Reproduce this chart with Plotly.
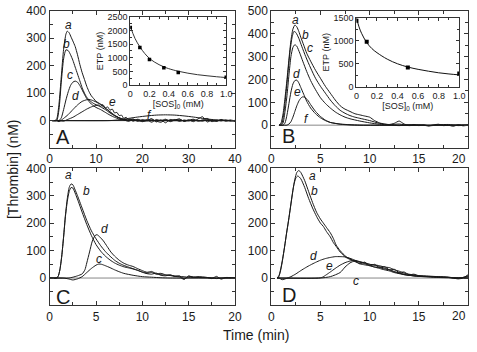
import plotly.graph_objects as go

# ---------------- data ----------------
# Panel A  (time min, thrombin nM)
A_a = [(0.5,0),(1,0),(1.5,5),(2,60),(2.5,160),(3,260),(3.5,315),(3.8,326),(4.2,320),(4.6,305),(5,290),(5.5,270),(6,240),(6.5,205),(7,175),(7.5,150),(8,125),(8.5,105),(9,90),(9.5,80),(10,70),(10.5,65),(11,60),(11.5,55),(12,45),(12.5,40),(13,32),(13.5,25),(14,18),(15,10),(16,5),(17,2),(18,6),(19,-3),(20,4),(21,0),(22,7),(23,-5),(24,3),(25,-8),(26,4),(27,1),(28,5),(29,-2),(30,3),(31,-4),(32,6),(33,14),(34,-5),(35,2),(36,-3),(37,4),(38,-2),(39,1),(40,-3)]
A_b = [(0.5,0),(1.5,0),(2,40),(2.5,140),(3,225),(3.5,258),(4,255),(4.5,240),(5,220),(5.5,195),(6,170),(6.5,145),(7,120),(7.5,100),(8,85),(8.5,75),(9,68),(9.5,62),(10,58),(11,50),(12,40),(13,28),(14,18),(15,10),(16,3),(17,6),(18,-2),(19,5),(20,-1),(21,3),(22,-6),(23,4),(24,0),(25,5),(26,-4),(27,2),(28,6),(29,-3),(30,1),(31,5),(32,-2),(33,3),(34,8),(35,-4),(36,2),(37,-1),(38,3),(39,-2),(40,1)]
A_c = [(0.5,0),(2,0),(2.5,10),(3,40),(3.5,75),(4,105),(4.5,128),(5,140),(5.5,144),(6,140),(6.5,128),(7,112),(7.5,95),(8,80),(9,60),(10,48),(11,40),(12,30),(13,20),(14,12),(15,6),(16,3),(17,-3),(18,4),(19,1),(20,-4),(21,2),(22,5),(23,-2),(24,-6),(25,3),(26,0),(27,4),(28,-3),(29,2),(30,-1),(31,3),(32,0),(33,-2),(34,4),(35,1),(36,-2),(37,3),(38,0),(39,2),(40,-1)]
A_d = [(0.5,0),(1.5,0),(2,-4),(3,8),(4,22),(5,40),(6,57),(7,70),(8,76),(8.5,77),(9,75),(10,68),(11,58),(12,45),(13,32),(14,20),(15,10),(16,4),(17,1),(18,0),(40,0)]
A_e = [(0.5,0),(2,0),(3,-2),(4,5),(5,12),(6,22),(7,32),(8,42),(9,50),(10,55),(10.5,57),(11,52),(11.5,58),(12,46),(12.5,50),(13,38),(13.5,42),(14,28),(14.5,30),(15,18),(15.5,20),(16,8),(16.5,12),(17,4),(17.5,6),(18,0),(19,3),(20,-2),(22,0),(40,0)]
A_f = [(0.5,0),(13,0),(15,3),(17,8),(19,13),(21,17),(23,20),(25,21),(27,20),(29,17),(31,13),(33,8),(35,4),(37,1),(38,0),(40,0)]
A_base = [(0.5,0),(40,0)]

# Panel B
B_a = [(0.8,0),(1.0,10),(1.2,50),(1.4,120),(1.6,200),(1.8,290),(2.0,370),(2.2,420),(2.4,438),(2.6,430),(2.8,410),(3.0,385),(3.3,350),(3.6,315),(4,280),(4.5,240),(5,205),(5.5,170),(6,140),(6.5,110),(7,85),(7.3,75),(7.5,70),(8,60),(8.5,50),(9,45),(9.5,40),(10,35),(10.5,20),(11,10),(11.5,5),(12,3),(12.5,8),(13,18),(13.5,5),(14,0),(14.5,3),(15,-2),(15.5,2),(16,-3),(16.5,1),(17,4),(17.5,-2),(18,0),(18.5,-5),(19,2),(19.5,-3),(20,0)]
B_b = [(0.8,0),(0.9,0),(1.1,10),(1.3,60),(1.5,140),(1.7,230),(1.9,320),(2.1,380),(2.3,410),(2.5,405),(2.8,380),(3.1,345),(3.5,300),(4,250),(4.5,205),(5,170),(5.5,140),(6,110),(6.5,85),(7,65),(7.5,52),(8,42),(8.5,35),(9,30),(10,20),(11,8),(12,2),(13,5),(14,-2),(15,2),(16,-3),(17,1),(18,3),(19,-2),(20,1)]
B_c = [(0.8,0),(1.0,0),(1.2,10),(1.4,60),(1.6,130),(1.8,220),(2.0,300),(2.2,340),(2.4,352),(2.6,345),(2.9,315),(3.2,280),(3.6,235),(4,195),(4.5,155),(5,120),(5.5,95),(6,75),(6.5,58),(7,45),(7.5,35),(8,28),(9,18),(10,10),(11,4),(12,1),(13,-2),(14,2),(15,0),(16,-2),(17,2),(18,-1),(19,1),(20,0)]
B_d = [(0.8,0),(1.2,0),(1.4,10),(1.6,45),(1.8,95),(2.0,145),(2.2,180),(2.4,195),(2.6,197),(2.8,185),(3.0,165),(3.3,135),(3.6,105),(4,75),(4.5,50),(5,32),(5.5,20),(6,12),(7,5),(8,2),(9,0),(20,0)]
B_e = [(0.8,0),(1.6,0),(1.8,5),(2.0,15),(2.2,35),(2.4,60),(2.6,85),(2.8,105),(3.0,118),(3.2,124),(3.4,122),(3.7,110),(4,90),(4.5,60),(5,38),(5.5,22),(6,12),(7,4),(8,1),(9,0),(20,0)]
B_f = [(0.8,0),(20,0)]

# Panel C
C_a = [(0,0),(0.7,0),(0.9,5),(1.1,30),(1.3,80),(1.5,150),(1.7,230),(1.9,290),(2.1,330),(2.3,343),(2.5,340),(2.7,325),(3,300),(3.5,255),(4,210),(4.5,172),(5,143),(5.5,118),(6,97),(6.5,80),(7,65),(7.5,54),(8,46),(8.5,40),(9,34),(9.5,28),(10,21),(10.5,16),(11,14),(11.5,18),(12,10),(12.5,8),(13,12),(13.5,6),(14,4),(14.5,-5),(15,8),(15.5,2),(16,5),(17,2),(17.5,-2),(18,6),(18.5,-4),(19,2),(20,0)]
C_b = [(0,0),(0.7,0),(0.9,5),(1.1,30),(1.3,80),(1.5,150),(1.7,225),(1.9,280),(2.1,315),(2.3,330),(2.5,328),(2.8,305),(3.1,278),(3.5,240),(4,195),(4.5,155),(5,122),(5.5,98),(6,80),(6.5,66),(7,55),(7.5,47),(8,41),(8.5,37),(9,33),(9.5,28),(10,22),(10.5,18),(11,20),(11.5,14),(12,12),(13,9),(14,6),(15,3),(16,2),(17,1),(18,0),(20,0)]
C_c = [(0,0),(1.5,0),(2,-3),(2.5,-7),(3,-3),(3.5,5),(4,20),(4.5,35),(5,47),(5.3,51),(5.6,50),(6,45),(6.5,38),(7,30),(7.5,23),(8,17),(9,10),(10,5),(11,3),(12,1),(13,0),(20,0)]
C_d = [(0,0),(2,0),(2.5,3),(3,8),(3.5,15),(3.8,30),(4,55),(4.3,95),(4.6,135),(4.9,155),(5.1,158),(5.4,150),(5.8,135),(6.2,115),(6.6,95),(7,80),(7.5,65),(8,54),(8.5,47),(9,42),(9.5,34),(10,27),(10.5,21),(11,24),(11.5,16),(12,17),(12.5,12),(13,10),(13.5,6),(14,8),(14.5,-3),(15,5),(16,3),(17,2),(18,-2),(19,1),(20,0)]
C_base = [(0,0),(20,0)]

# Panel D
D_a = [(0.6,0),(0.8,10),(1.0,40),(1.2,80),(1.4,125),(1.6,175),(1.8,220),(2.0,270),(2.2,320),(2.4,360),(2.6,385),(2.8,392),(3.0,385),(3.4,355),(3.8,315),(4.2,275),(4.6,240),(5.0,215),(5.3,200),(5.6,185),(6.0,165),(6.3,145),(6.6,120),(7.0,100),(7.3,88),(7.6,78),(8.0,70),(8.5,62),(9,58),(9.5,55),(10,50),(10.5,48),(11,45),(11.5,40),(12,38),(12.5,30),(13,25),(13.5,18),(14,14),(15,9),(16,7),(17,5),(18,3),(19,-3),(19.5,0),(20,12)]
D_b = [(0.6,0),(0.7,0),(0.9,20),(1.1,55),(1.3,100),(1.5,150),(1.7,195),(1.9,245),(2.1,295),(2.3,340),(2.5,365),(2.7,372),(3.0,362),(3.4,330),(3.8,290),(4.2,255),(4.6,225),(5.0,200),(5.3,188),(5.6,170),(6.0,150),(6.3,130),(6.6,115),(7.0,95),(7.3,85),(7.6,75),(8.0,68),(8.5,60),(9,52),(9.5,48),(10,45),(10.5,40),(11,38),(11.5,33),(12,30),(12.5,22),(13,18),(13.5,12),(14,10),(15,6),(16,5),(17,4),(18,2),(19,-2),(20,8)]
D_c = [(0.6,0),(5,0),(6,5),(7,20),(7.5,40),(8,55),(8.5,62),(9,52),(9.5,58),(10,45),(10.5,50),(11,38),(11.5,42),(12,30),(12.5,32),(13,20),(13.5,22),(14,12),(14.5,14),(15,8),(16,6),(17,4),(18,3),(19,0),(20,5)]
D_d = [(0.6,0),(0.8,0),(1.1,-6),(1.5,-2),(2,5),(2.5,15),(3,27),(3.5,38),(4,48),(4.5,57),(5,65),(5.5,71),(6,75),(6.5,78),(7,78),(7.5,77),(8,72),(8.5,65),(9,58),(9.5,52),(10,46),(10.5,40),(11,35),(11.5,30),(12,26),(12.5,20),(13,16),(14,10),(15,7),(16,5),(17,3),(18,2),(19,1),(20,0)]
D_e = [(0.6,0),(4.8,0),(5.2,3),(5.6,12),(6,22),(6.5,35),(7,47),(7.5,56),(8,62),(8.5,64),(9,60),(9.5,55),(10,50),(10.5,46),(11,42),(11.5,36),(12,30),(12.5,24),(13,18),(14,10),(15,6),(16,4),(17,2),(18,1),(20,0)]
D_base = [(0.6,0),(20,0)]

# Insets: ETP vs [SOS]0
insA_sos = [0, 0.1, 0.2, 0.35, 0.5, 1.0]
insA_etp = [2105, 1375, 940, 640, 465, 290]
insA_fit_sos = [0, 0.05, 0.1, 0.15, 0.2, 0.25, 0.3, 0.35, 0.4, 0.5, 0.6, 0.7, 0.8, 0.9, 1.0]
insA_fit_etp = [2150, 1700, 1400, 1160, 980, 850, 750, 670, 605, 510, 440, 385, 345, 310, 280]
insB_sos = [0, 0.1, 0.5, 1.0]
insB_etp = [1430, 980, 420, 290]
insB_fit_sos = [0, 0.025, 0.05, 0.1, 0.15, 0.2, 0.3, 0.4, 0.5, 0.6, 0.7, 0.8, 0.9, 1.0]
insB_fit_etp = [1500, 1300, 1160, 960, 830, 740, 600, 500, 430, 380, 340, 305, 280, 260]

# tick labels
yA_ticks = [0, 100, 200, 300, 400]
yB_ticks = [0, 100, 200, 300, 400, 500]
xA_ticks = [0, 10, 20, 30, 40]
xB_ticks = [0, 5, 10, 15]          # "20" drawn separately (right edge of page)
ins_x_ticks = [0, 0.2, 0.4, 0.6, 0.8, 1.0]
ins_x_text = ["0", "0.2", "0.4", "0.6", "0.8", "1.0"]

# curve labels (label, x, y)
A_labels = [("a", 4.0, 347), ("b", 3.66, 279), ("c", 4.37, 165), ("d", 5.56, 89), ("e", 13.5, 69), ("f", 21.6, 20)]
B_labels = [("a", 2.45, 462), ("b", 3.44, 394), ("c", 3.97, 338), ("d", 2.55, 222), ("e", 2.65, 144), ("f", 3.54, 28)]
C_labels = [("a", 2.0, 374), ("b", 4.0, 316), ("d", 5.87, 178), ("c", 5.34, 70)]
D_labels = [("a", 4.17, 372), ("b", 4.43, 317), ("d", 4.3, 82), ("e", 5.97, 44), ("c", 8.6, -12)]

# ---------------- figure ----------------
W, H = 477, 352
FONT = "Liberation Sans, Arial, sans-serif"
INK = "#1a1a1a"

def px(x): return x / W
def py(y): return 1 - y / H

fig = go.Figure()

def add_curve(pts, xa, ya, color=INK, width=1):
    xs = [p[0] for p in pts]
    ys = [p[1] for p in pts]
    fig.add_trace(go.Scatter(x=xs, y=ys, mode="lines", xaxis=xa, yaxis=ya,
                             line=dict(color=color, width=width, shape="spline", smoothing=0.6),
                             showlegend=False, hoverinfo="skip"))

for c in [A_base, A_a, A_b, A_c, A_d, A_e, A_f]:
    add_curve(c, "x", "y")
add_curve(B_f, "x2", "y2", color="#888888")
for c in [B_a, B_b, B_c, B_d, B_e]:
    add_curve(c, "x2", "y2")
add_curve(C_base, "x3", "y3", color="#888888")
for c in [C_a, C_b, C_c, C_d]:
    add_curve(c, "x3", "y3")
add_curve(D_base, "x4", "y4", color="#888888")
for c in [D_a, D_b, D_c, D_d, D_e]:
    add_curve(c, "x4", "y4")

# insets
fig.add_trace(go.Scatter(x=insA_fit_sos, y=insA_fit_etp, mode="lines", xaxis="x5", yaxis="y5",
                         line=dict(color="#333", width=1, shape="spline"), showlegend=False, hoverinfo="skip"))
fig.add_trace(go.Scatter(x=insA_sos, y=insA_etp, mode="markers", xaxis="x5", yaxis="y5",
                         marker=dict(symbol="square", size=3.5, color="black"), showlegend=False, hoverinfo="skip"))
fig.add_trace(go.Scatter(x=insB_fit_sos, y=insB_fit_etp, mode="lines", xaxis="x6", yaxis="y6",
                         line=dict(color="#111", width=1, shape="spline"), showlegend=False, hoverinfo="skip"))
fig.add_trace(go.Scatter(x=insB_sos, y=insB_etp, mode="markers", xaxis="x6", yaxis="y6",
                         marker=dict(symbol="square", size=4, color="black"), showlegend=False, hoverinfo="skip"))

def main_ax(domain, rng, tickvals, minor, anchor):
    return dict(domain=domain, range=rng, tickmode="array", tickvals=tickvals, anchor=anchor,
                showline=True, linecolor="#333", linewidth=1, mirror="ticks",
                ticks="inside", ticklen=4, tickcolor="#333", tickwidth=1,
                showgrid=False, zeroline=False,
                tickfont=dict(size=12, family=FONT, color=INK),
                minor=dict(ticks="inside", ticklen=3, tickcolor="#333", dtick=minor, tick0=0, showgrid=False))

def inset_ax(domain, rng, anchor, title, standoff, tickvals=None, ticktext=None, dtick=None, minor=None):
    d = dict(domain=domain, range=rng, anchor=anchor,
             showline=True, linecolor="#333", linewidth=1, mirror="ticks",
             ticks="inside", ticklen=3, tickcolor="#333", tickwidth=1,
             showgrid=False, zeroline=False,
             tickfont=dict(size=9, family=FONT, color=INK),
             title=dict(text=title, font=dict(size=9, family=FONT, color=INK), standoff=standoff),
             minor=dict(ticks="inside", ticklen=2, tickcolor="#333", dtick=minor, tick0=0, showgrid=False))
    if tickvals is not None:
        d.update(tickmode="array", tickvals=tickvals, ticktext=ticktext)
    else:
        d.update(dtick=dtick, tick0=0)
    return d

xA = [px(47.7), px(237)]
xB = [px(274), px(475)]
yTop = [py(146), py(4)]
yBot = [py(309), py(167)]

fig.update_layout(
    width=W, height=H, margin=dict(l=0, r=0, t=0, b=0),
    paper_bgcolor="white", plot_bgcolor="white",
    xaxis=main_ax(xA, [0, 40], xA_ticks, 5, "y"),
    yaxis=main_ax(yTop, [-100, 400], yA_ticks, 50, "x"),
    xaxis2=main_ax(xB, [0, 20], xB_ticks, 2.5, "y2"),
    yaxis2=main_ax(yTop, [-100, 500], yB_ticks, 50, "x2"),
    xaxis3=main_ax(xA, [0, 20], xB_ticks + [20], 2.5, "y3"),
    yaxis3=main_ax(yBot, [-100, 400], yA_ticks, 50, "x3"),
    xaxis4=main_ax(xB, [0, 20], xB_ticks, 2.5, "y4"),
    yaxis4=main_ax(yBot, [-100, 400], yA_ticks, 50, "x4"),
    xaxis5=inset_ax([px(130), px(228)], [0, 1.0], "y5", "[SOS]<sub>0</sub> (mM)", 0,
                    tickvals=ins_x_ticks, ticktext=ins_x_text, minor=0.1),
    yaxis5=inset_ax([py(81), py(10)], [0, 2500], "x5", "ETP (nM)", 2, dtick=500, minor=250),
    xaxis6=inset_ax([px(361), px(466)], [0, 1.0], "y6", "[SOS]<sub>0</sub> (mM)", 0,
                    tickvals=ins_x_ticks, ticktext=ins_x_text, minor=0.1),
    yaxis6=inset_ax([py(82.7), py(11)], [0, 1500], "x6", "ETP (nM)", 2, dtick=500, minor=250),
)

ann = []
def lab(text, x, y, size=20):
    ann.append(dict(text=text, x=px(x), y=py(y), xref="paper", yref="paper", showarrow=False,
                    xanchor="center", yanchor="middle", font=dict(size=size, family=FONT, color=INK)))
lab("A", 61.5, 135)
lab("B", 292, 134)
lab("C", 61.5, 300)
lab("D", 291.7, 298)
ann.append(dict(text="[Thrombin] (nM)", x=px(10), y=py(168), xref="paper", yref="paper", showarrow=False,
                textangle=-90, xanchor="center", yanchor="middle", font=dict(size=14, family=FONT, color=INK)))
ann.append(dict(text="Time (min)", x=px(258), y=py(340), xref="paper", yref="paper", showarrow=False,
                xanchor="center", yanchor="middle", font=dict(size=14, family=FONT, color=INK)))
# right-edge "20" labels of panels B and D (kept inside the page)
for yy in (157, 320):
    ann.append(dict(text="20", x=px(475), y=py(yy), xref="paper", yref="paper", showarrow=False,
                    xanchor="right", yanchor="middle", font=dict(size=12, family=FONT, color=INK)))

for labels, xr, yr in [(A_labels, "x", "y"), (B_labels, "x2", "y2"), (C_labels, "x3", "y3"), (D_labels, "x4", "y4")]:
    for t, x, y in labels:
        ann.append(dict(text="<i>%s</i>" % t, x=x, y=y, xref=xr, yref=yr, showarrow=False,
                        xanchor="center", yanchor="middle", font=dict(size=12, family=FONT, color=INK)))
fig.update_layout(annotations=ann)

fig.write_html("out.html", config={"displayModeBar": False},
               post_script="document.body.style.margin='0';document.body.style.overflow='hidden';")
